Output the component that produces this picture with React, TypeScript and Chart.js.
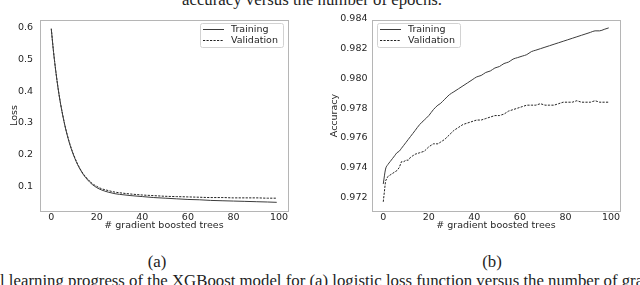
import React, { useEffect, useRef } from "react";
import { Chart, registerables } from "chart.js";

Chart.register(...registerables);

// ---------- data ----------
const seriesLabels = ["Training", "Validation"];
const xTitle = "# gradient boosted trees";
const xTicks = [0, 20, 40, 60, 80, 100];

const lossTrees = [0, 1, 2, 3, 4, 5, 6, 7, 8, 9, 10, 11, 12, 14, 16, 18, 20, 22, 25, 28, 30, 35, 40, 45, 50, 55, 60, 65, 70, 75, 80, 85, 90, 95, 99];
const lossTraining = [0.595, 0.522, 0.461, 0.408, 0.363, 0.325, 0.291, 0.262, 0.236, 0.214, 0.195, 0.178, 0.163, 0.139, 0.121, 0.107, 0.097, 0.090, 0.083, 0.078, 0.076, 0.072, 0.069, 0.066, 0.064, 0.062, 0.060, 0.059, 0.057, 0.056, 0.055, 0.054, 0.053, 0.052, 0.051];
const lossValidation = [0.596, 0.523, 0.462, 0.409, 0.364, 0.326, 0.292, 0.263, 0.238, 0.216, 0.197, 0.180, 0.165, 0.141, 0.124, 0.110, 0.101, 0.094, 0.088, 0.083, 0.081, 0.077, 0.074, 0.072, 0.070, 0.069, 0.068, 0.067, 0.066, 0.066, 0.065, 0.065, 0.065, 0.064, 0.064];
const lossTicks = [0.1, 0.2, 0.3, 0.4, 0.5, 0.6];

const accTrees = [0, 1, 2, 3, 4, 5, 6, 7, 8, 9, 10, 11, 12, 13, 14, 16, 18, 20, 21, 22, 24, 25, 27, 29, 31, 33, 35, 37, 39, 41, 43, 45, 47, 49, 51, 53, 55, 57, 59, 61, 63, 65, 67, 69, 71, 73, 75, 77, 79, 81, 83, 85, 87, 89, 91, 93, 95, 97, 99];
const accTraining = [0.9729, 0.9739, 0.9742, 0.9744, 0.9746, 0.9748, 0.9750, 0.9751, 0.9753, 0.9755, 0.9757, 0.9759, 0.9761, 0.9763, 0.9765, 0.9769, 0.9772, 0.9775, 0.9777, 0.9779, 0.9782, 0.9783, 0.9786, 0.9789, 0.9791, 0.9793, 0.9795, 0.9797, 0.9799, 0.9801, 0.9802, 0.9804, 0.9805, 0.9807, 0.9808, 0.9810, 0.9811, 0.9813, 0.9814, 0.9815, 0.9816, 0.9818, 0.9819, 0.9820, 0.9821, 0.9822, 0.9823, 0.9824, 0.9825, 0.9826, 0.9827, 0.9828, 0.9829, 0.9830, 0.9831, 0.9832, 0.9832, 0.9833, 0.9834];
const accValidation = [0.9717, 0.9731, 0.9734, 0.9735, 0.9736, 0.9737, 0.9738, 0.9740, 0.9744, 0.9744, 0.9745, 0.9745, 0.9747, 0.9748, 0.9749, 0.9750, 0.9751, 0.9754, 0.9755, 0.9756, 0.9756, 0.9757, 0.9759, 0.9762, 0.9765, 0.9767, 0.9769, 0.9770, 0.9771, 0.9772, 0.9772, 0.9773, 0.9774, 0.9775, 0.9775, 0.9776, 0.9778, 0.9779, 0.9780, 0.9781, 0.9782, 0.9782, 0.9782, 0.9783, 0.9782, 0.9782, 0.9782, 0.9783, 0.9784, 0.9784, 0.9784, 0.9785, 0.9784, 0.9784, 0.9784, 0.9785, 0.9784, 0.9784, 0.9784];
const accTicks = [0.972, 0.974, 0.976, 0.978, 0.98, 0.982, 0.984];

const topCaption = "accuracy versus the number of epochs.";
const subLabels = ["(a)", "(b)"];
const bottomCaption = "l learning progress of the XGBoost model for (a) logistic loss function versus the number of gradient boosted trees";

// ---------- styling ----------
const SANS = '"DejaVu Sans", sans-serif';
const SERIF = '"Liberation Serif", "Times New Roman", serif';
const TEXT = "#262626";
const FS = 9.5;

type Cfg = {
  trees: number[];
  train: number[];
  valid: number[];
  yMin: number;
  yMax: number;
  yTicks: number[];
  decimals: number;
  yTitle: string;
  yWidth: number;
  yPad: number;
  rightPad: number;
  legendSide: "left" | "right";
  legendDx: number;
  smoothValid: boolean;
};

function LineChart({ cfg, left }: { cfg: Cfg; left: number }) {
  const ref = useRef<HTMLCanvasElement>(null);
  useEffect(() => {
    const canvas = ref.current!;
    const font = { family: SANS, size: FS, lineHeight: 1 };

    const framePlugin = {
      id: "frame",
      afterDatasetsDraw(chart: any) {
        const { ctx, chartArea: a } = chart;
        ctx.save();
        ctx.strokeStyle = "#b5b5b5";
        ctx.lineWidth = 1;
        ctx.setLineDash([]);
        ctx.strokeRect(a.left + 0.5, a.top + 0.5, a.right - a.left, a.bottom - a.top);
        ctx.restore();
      },
    };

    const legendPlugin = {
      id: "boxLegend",
      afterDraw(chart: any) {
        const { ctx, chartArea: a } = chart;
        ctx.save();
        ctx.font = `${FS}px ${SANS}`;
        const ds = chart.data.datasets;
        const tw = Math.max(...ds.map((d: any) => ctx.measureText(d.label).width));
        const w = Math.round(3 + 21 + 7 + tw + 5);
        const h = 24;
        const x = cfg.legendSide === "right" ? a.right - cfg.legendDx - w : a.left + cfg.legendDx;
        const y = a.top + 3;
        ctx.beginPath();
        if ((ctx as any).roundRect) (ctx as any).roundRect(x + 0.5, y + 0.5, w, h, 2);
        else ctx.rect(x + 0.5, y + 0.5, w, h);
        ctx.fillStyle = "rgba(255,255,255,0.85)";
        ctx.fill();
        ctx.strokeStyle = "#d2d2d2";
        ctx.lineWidth = 1;
        ctx.stroke();
        ds.forEach((d: any, i: number) => {
          const cy = y + 6.5 + i * 11;
          ctx.beginPath();
          ctx.setLineDash(d.borderDash || []);
          ctx.strokeStyle = d.borderColor;
          ctx.lineWidth = 1;
          ctx.moveTo(x + 3, cy);
          ctx.lineTo(x + 24, cy);
          ctx.stroke();
          ctx.setLineDash([]);
          ctx.fillStyle = TEXT;
          ctx.textBaseline = "middle";
          ctx.textAlign = "left";
          ctx.fillText(d.label, x + 31, cy);
        });
        ctx.restore();
      },
    };

    const chart = new Chart(canvas, {
      type: "line",
      data: {
        datasets: [
          {
            label: seriesLabels[0],
            data: cfg.trees.map((x, i) => ({ x, y: cfg.train[i] })),
            borderColor: "#3c3c3c",
            borderWidth: 1,
            pointRadius: 0,
            fill: false,
            cubicInterpolationMode: "monotone",
          },
          {
            label: seriesLabels[1],
            data: cfg.trees.map((x, i) => ({ x, y: cfg.valid[i] })),
            borderColor: "#222222",
            borderWidth: 1,
            borderDash: [2.2, 1.3],
            pointRadius: 0,
            fill: false,
            cubicInterpolationMode: cfg.smoothValid ? "monotone" : "default",
            tension: 0,
          },
        ],
      },
      options: {
        animation: false,
        responsive: false,
        devicePixelRatio: 1,
        events: [],
        layout: { padding: { left: 0, top: 20, right: cfg.rightPad, bottom: 0 } },
        plugins: { legend: { display: false }, tooltip: { enabled: false } },
        scales: {
          x: {
            type: "linear",
            min: -4.95,
            max: 103.95,
            afterBuildTicks: (s: any) => {
              s.ticks = xTicks.map((v) => ({ value: v }));
            },
            afterFit: (s: any) => {
              s.height = 39;
            },
            grid: { display: false, drawTicks: false },
            border: { display: false },
            ticks: { font, color: TEXT, padding: 1.5, maxRotation: 0, autoSkip: false },
            title: { display: true, text: xTitle, font, color: TEXT, padding: { top: 0, bottom: 19.5 } },
          },
          y: {
            type: "linear",
            min: cfg.yMin,
            max: cfg.yMax,
            afterBuildTicks: (s: any) => {
              s.ticks = cfg.yTicks.map((v) => ({ value: v }));
            },
            afterFit: (s: any) => {
              s.width = cfg.yWidth;
            },
            grid: { display: false, drawTicks: false },
            border: { display: false },
            ticks: {
              font,
              color: TEXT,
              padding: cfg.yPad,
              autoSkip: false,
              callback: (v: any) => Number(v).toFixed(cfg.decimals),
            },
            title: { display: true, text: cfg.yTitle, font, color: TEXT, padding: { top: 10.25, bottom: 0 } },
          },
        },
      } as any,
      plugins: [framePlugin, legendPlugin],
    });
    return () => chart.destroy();
  }, []);
  return (
    <canvas
      ref={ref}
      width={320}
      height={250}
      style={{ position: "absolute", left, top: 0, width: 320, height: 250 }}
    />
  );
}

const lossCfg: Cfg = {
  trees: lossTrees,
  train: lossTraining,
  valid: lossValidation,
  yMin: 0.0238,
  yMax: 0.623,
  yTicks: lossTicks,
  decimals: 1,
  yTitle: "Loss",
  yWidth: 40,
  yPad: 7,
  rightPad: 32,
  legendSide: "right",
  legendDx: 5,
  smoothValid: true,
};

const accCfg: Cfg = {
  trees: accTrees,
  train: accTraining,
  valid: accValidation,
  yMin: 0.97108,
  yMax: 0.98393,
  yTicks: accTicks,
  decimals: 3,
  yTitle: "Accuracy",
  yWidth: 52,
  yPad: 4.5,
  rightPad: 20,
  legendSide: "left",
  legendDx: 5,
  smoothValid: false,
};

export default function App() {
  const serif: React.CSSProperties = {
    position: "absolute",
    fontFamily: SERIF,
    fontSize: "16.8px",
    lineHeight: "16.8px",
    color: "#1e1e1e",
    whiteSpace: "nowrap",
  };
  return (
    <div
      style={{
        position: "absolute",
        left: 0,
        top: 0,
        width: 640,
        height: 285,
        overflow: "hidden",
        background: "#ffffff",
      }}
    >
      <div style={{ ...serif, left: 182, top: -7.6 }}>{topCaption}</div>
      <LineChart cfg={lossCfg} left={0} />
      <LineChart cfg={accCfg} left={320} />
      <div style={{ ...serif, left: 157, top: 254, transform: "translateX(-50%)" }}>{subLabels[0]}</div>
      <div style={{ ...serif, left: 492, top: 254, transform: "translateX(-50%)" }}>{subLabels[1]}</div>
      <div style={{ ...serif, left: 0, top: 273 }}>{bottomCaption}</div>
    </div>
  );
}
